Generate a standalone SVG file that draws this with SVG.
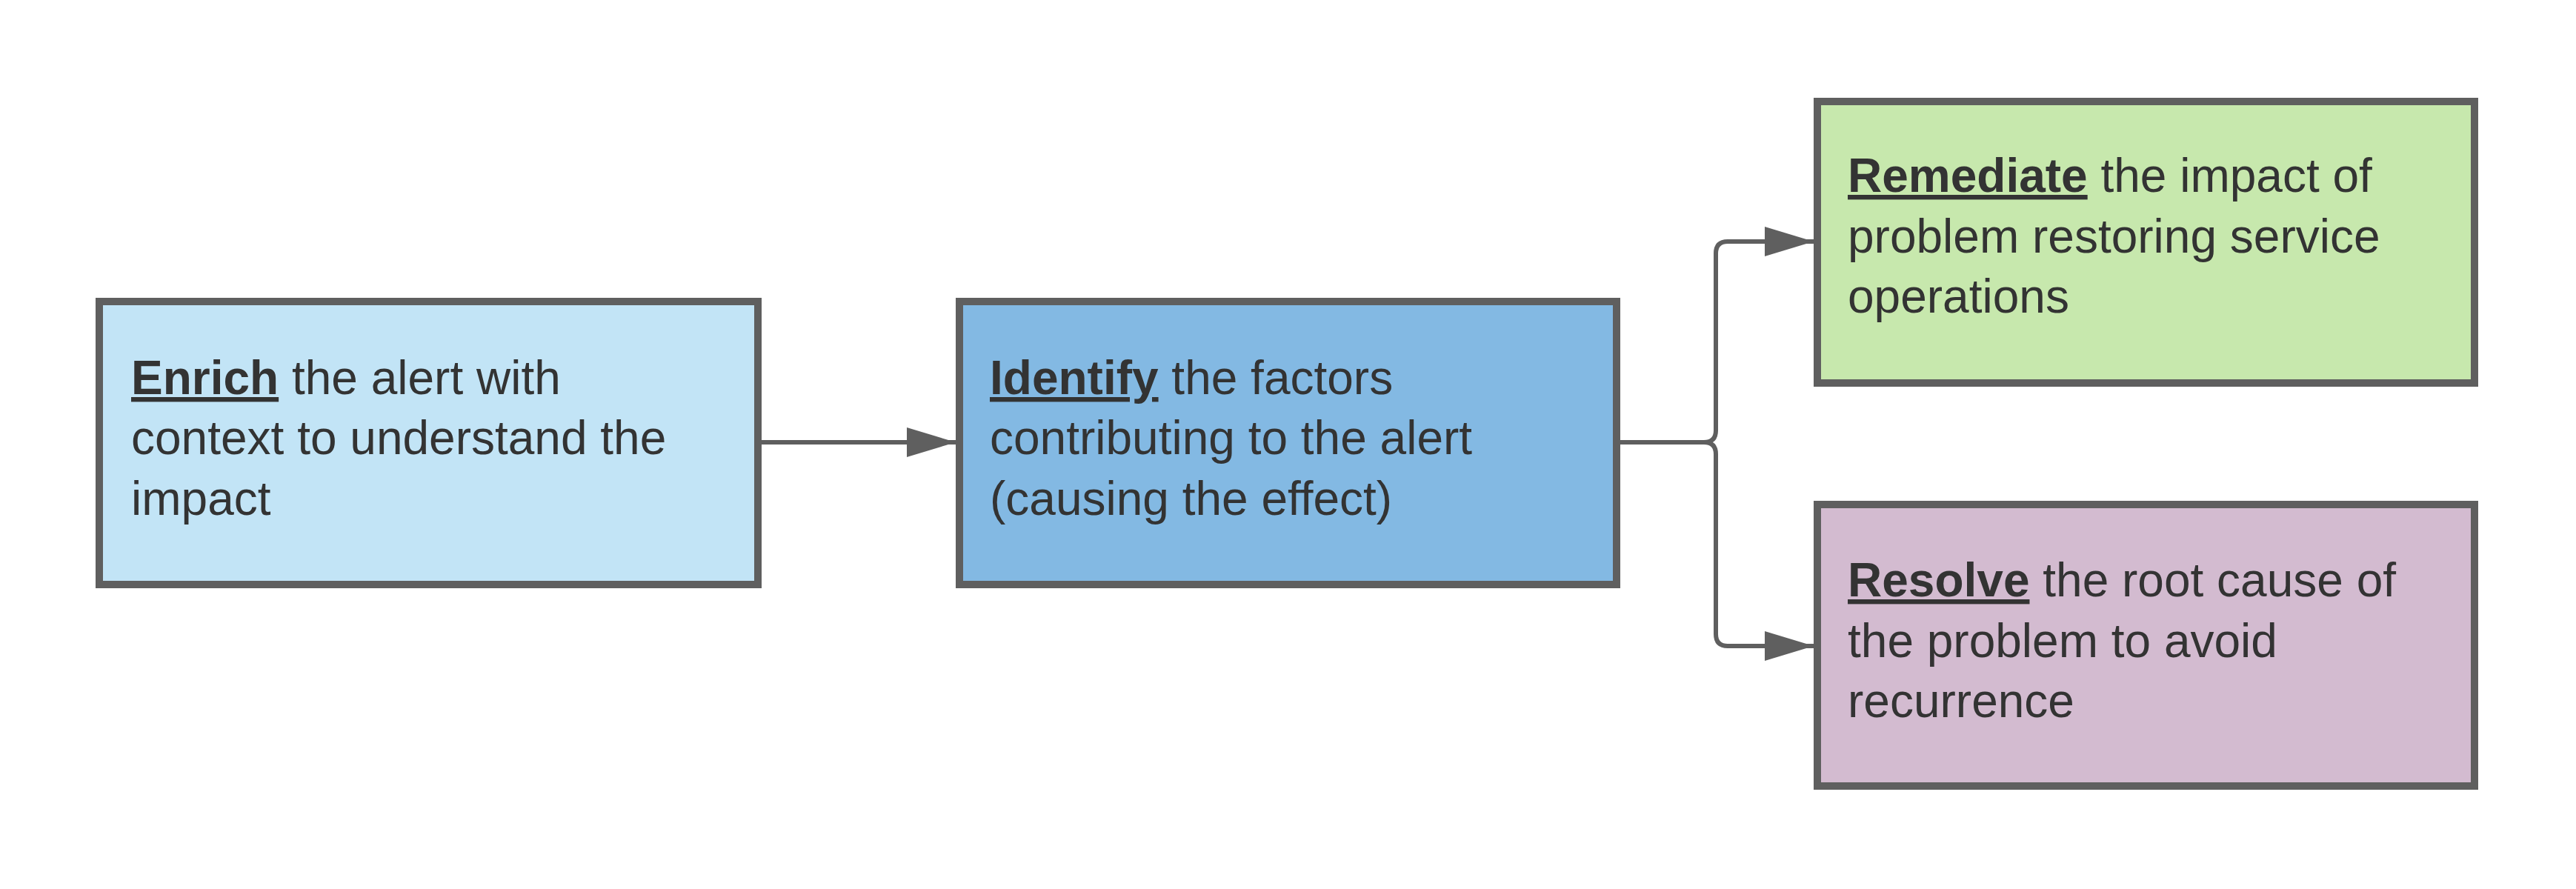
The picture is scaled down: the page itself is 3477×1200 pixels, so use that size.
<svg xmlns="http://www.w3.org/2000/svg" width="3477" height="1200" viewBox="0 0 3477 1200">
<style>
.box{stroke:#5f5f5f;stroke-width:10}
text{font-family:"Liberation Sans",Arial,sans-serif;font-size:64px;fill:#333333}
.b{font-weight:bold;text-decoration:underline}
.c{fill:none;stroke:#5f5f5f;stroke-width:6}
</style>
<defs><marker id="ah" markerWidth="14" markerHeight="14" refX="12" refY="6" orient="auto" markerUnits="userSpaceOnUse" viewBox="0 0 12 12"><path d="M0,0 L12,6 L0,12 Z" fill="#5f5f5f"/></marker>
<marker id="a" viewBox="0 0 66 40" refX="66" refY="20" markerWidth="66" markerHeight="40" orient="auto" markerUnits="userSpaceOnUse"><path d="M0,0 L66,20 L0,40 Z" fill="#5f5f5f"/></marker></defs>
<g id="connectors">
<path class="c" d="M1027,597 H1290" marker-end="url(#a)"/>
<path class="c" d="M2182,597 H2300 Q2316,597 2316,581 V342 Q2316,326 2332,326 H2448" marker-end="url(#a)"/>
<path class="c" d="M2300,597 Q2316,597 2316,613 V856 Q2316,872 2332,872 H2448" marker-end="url(#a)"/>
</g>
<g id="enrich"><rect class="box" x="134" y="407" width="889" height="382" fill="#c2e4f6"/>
<text x="177" y="532"><tspan class="b">Enrich</tspan> the alert with</text><text x="177" y="613">context to understand the</text><text x="177" y="695">impact</text></g>
<g id="identify"><rect class="box" x="1295" y="407" width="887" height="382" fill="#83b9e3"/>
<text x="1336" y="532"><tspan class="b">Identify</tspan> the factors</text><text x="1336" y="613">contributing to the alert</text><text x="1336" y="695">(causing the effect)</text></g>
<g id="remediate"><rect class="box" x="2453" y="137" width="887" height="380" fill="#c7e8ad"/>
<text x="2494" y="259"><tspan class="b">Remediate</tspan> the impact of</text><text x="2494" y="341">problem restoring service</text><text x="2494" y="422">operations</text></g>
<g id="resolve"><rect class="box" x="2453" y="681" width="887" height="380" fill="#d3bbd0"/>
<text x="2494" y="805"><tspan class="b">Resolve</tspan> the root cause of</text><text x="2494" y="887">the problem to avoid</text><text x="2494" y="968">recurrence</text></g>
</svg>
